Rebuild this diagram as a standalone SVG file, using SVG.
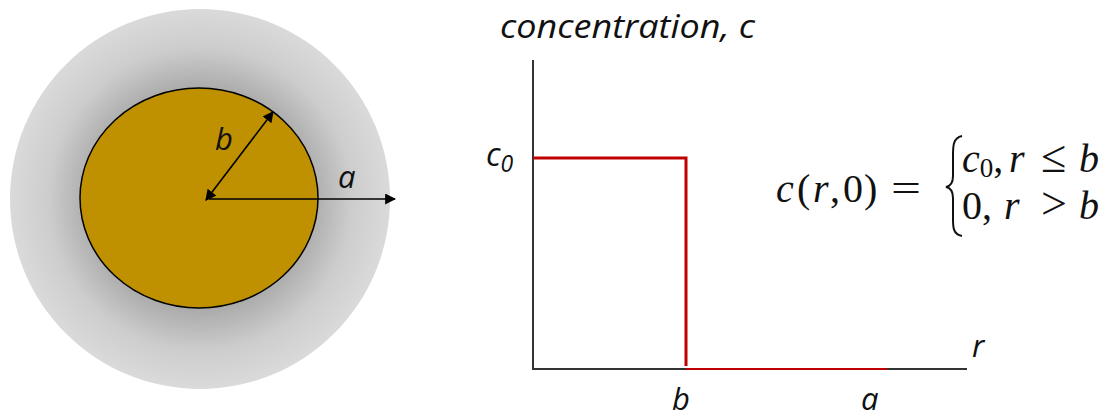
<svg xmlns="http://www.w3.org/2000/svg" width="1114" height="417" viewBox="0 0 1114 417">
<style>
.lbl{font-family:"Open Sans","Liberation Sans",sans-serif;font-style:italic;fill:#111}
.math{font-family:"Liberation Serif","DejaVu Serif",serif;fill:#111}
.ax{stroke:#333;stroke-width:2;fill:none}
.red{stroke:#c00000;fill:none}
.arr{stroke:#000;stroke-width:1.6;fill:none}
</style>
<defs>
<radialGradient id="gray" cx="0.5" cy="0.5" r="0.5">
<stop offset="0" stop-color="#8a8a8a"/>
<stop offset="0.55" stop-color="#a6a6a6"/>
<stop offset="0.8" stop-color="#cdcdcd"/>
<stop offset="1" stop-color="#dadada"/>
</radialGradient>
<marker id="ah" viewBox="0 0 10 10" refX="9" refY="5" markerWidth="11" markerHeight="11" orient="auto-start-reverse" markerUnits="userSpaceOnUse">
<path d="M0,0 L10,5 L0,10 z" fill="#000"/>
</marker>
</defs>
<g id="sphere">
<circle cx="200" cy="199" r="190" fill="url(#gray)"/>
<ellipse cx="199" cy="198" rx="119" ry="110" fill="#bf9000" stroke="#000" stroke-width="1.5"/>
<text class="lbl" x="215" y="150" font-size="31">b</text>
<text class="lbl" x="338" y="188" font-size="31">a</text>
</g>
<g id="connectors">
<line class="arr" x1="209" y1="199" x2="395" y2="199" marker-end="url(#ah)"/>
<line class="arr" x1="206" y1="200" x2="273" y2="112" marker-start="url(#ah)" marker-end="url(#ah)"/>
</g>
<g id="chart">
<text class="lbl" x="500" y="38" font-size="33" textLength="255" lengthAdjust="spacingAndGlyphs">concentration, c</text>
<line class="ax" x1="533" y1="60" x2="533" y2="370"/>
<line class="ax" x1="532" y1="369" x2="967" y2="369"/>
<polyline class="red" stroke-width="3" points="533,158 686,158 686,366"/>
<line class="red" stroke-width="2" x1="686" y1="369" x2="887" y2="369"/>
<text class="lbl" x="486" y="166" font-size="32">c<tspan font-size="23" dy="6">0</tspan></text>
<text class="lbl" x="972" y="357" font-size="31">r</text>
<text class="lbl" x="672" y="410" font-size="31">b</text>
<text class="lbl" x="861" y="410" font-size="31">a</text>
</g>
<g id="equation" class="math" font-size="40">
<text x="776" y="202" font-style="italic">c</text>
<text x="797" y="202">(</text>
<text x="813" y="202" font-style="italic">r</text>
<text x="830" y="202">,</text>
<text x="843" y="202">0</text>
<text x="864" y="202">)</text>
<text x="891" y="202" textLength="30" lengthAdjust="spacingAndGlyphs">=</text>
<path d="M962,136 C952,138 953,148 953,160 L953,176 C953,183 951,186 946,187 C951,188 953,191 953,198 L953,214 C953,226 952,234 962,236" fill="none" stroke="#111" stroke-width="2"/>
<text x="962" y="172"><tspan font-style="italic">c</tspan><tspan font-size="27" dy="5">0</tspan><tspan dy="-5">,</tspan><tspan x="1009" font-style="italic">r</tspan><tspan x="1041" font-size="46">≤</tspan><tspan x="1079" font-style="italic">b</tspan></text>
<text x="962" y="219">0<tspan>,</tspan><tspan x="1004" font-style="italic">r</tspan><tspan x="1041" font-size="46">&gt;</tspan><tspan x="1079" font-style="italic">b</tspan></text>
</g>
</svg>
